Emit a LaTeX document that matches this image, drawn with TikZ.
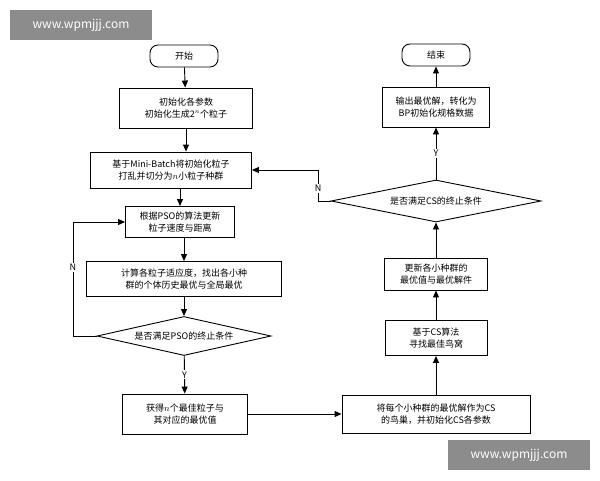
\documentclass[tikz,border=0pt]{standalone}
\usepackage{fontspec}
\setmainfont{Noto Sans CJK SC}
\usetikzlibrary{shapes.geometric,arrows.meta}
\begin{document}
\begin{tikzpicture}[x=1pt,y=-1pt,
  box/.style={draw,line width=0.9pt,align=center,inner sep=1pt,font=\fontsize{9}{12}\selectfont},
  term/.style={box,rounded corners=8pt},
  dia/.style={draw,line width=0.9pt,diamond,aspect=4.4,inner sep=0pt,font=\fontsize{9}{12}\selectfont},
  arr/.style={-{Triangle[length=7pt,width=6pt]},line width=0.9pt},
  lab/.style={font=\fontsize{9}{11}\selectfont},
  wm/.style={fill=black!45,text=white,minimum width=142pt,minimum height=30pt,inner sep=0pt,font=\fontsize{12}{14}\selectfont}]
\useasboundingbox (0,0) rectangle (600,480);
\fill[white] (0,0) rectangle (600,480);
\node[wm] (wm1) at (81,25) {www.wpmjjj.com};
\node[wm] (wm2) at (519,455) {www.wpmjjj.com};
\node[term,minimum width=68pt,minimum height=22pt] (start) at (184,56) {开始};
\node[box,minimum width=133pt,minimum height=40pt] (b1) at (186,108) {初始化各参数\\初始化生成2$^n$个粒子};
\node[box,minimum width=161pt,minimum height=36pt] (b2) at (171,170) {基于Mini-Batch将初始化粒子\\打乱并切分为$n$小粒子种群};
\node[box,minimum width=109pt,minimum height=31pt] (b3) at (180,222) {根据PSO的算法更新\\粒子速度与距离};
\node[box,minimum width=195pt,minimum height=35pt] (b4) at (184,279) {计算各粒子适应度，找出各小种\\群的个体历史最优与全局最优};
\node[dia,minimum width=174pt,minimum height=39pt] (d1) at (184,336) {是否满足PSO的终止条件};
\node[box,minimum width=125pt,minimum height=40pt] (b5) at (185,414) {获得$n$个最佳粒子与\\其对应的最优值};
\node[box,minimum width=188pt,minimum height=38pt] (b6) at (436,414) {将每个小种群的最优解作为CS\\的鸟巢，并初始化CS各参数};
\node[box,minimum width=102pt,minimum height=35pt] (b7) at (436,338) {基于CS算法\\寻找最佳鸟窝};
\node[box,minimum width=103pt,minimum height=32pt] (b8) at (436,274) {更新各小种群的\\最优值与最优解件};
\node[dia,minimum width=210pt,minimum height=42pt] (d2) at (436,201) {是否满足CS的终止条件};
\node[box,minimum width=107pt,minimum height=40pt] (b9) at (436,107) {输出最优解，转化为\\BP初始化规格数据};
\node[term,minimum width=68pt,minimum height=22pt] (end) at (436,55) {结束};
\coordinate (l1) at (73,336);
\coordinate (l2) at (73,222);
\coordinate (r1) at (318,201);
\coordinate (r2) at (318,170);
\draw[arr] (start) -- (b1);
\draw[arr] (b1) -- (b1|-b2.north);
\draw[arr] (b3|-b2.south) -- (b3);
\draw[arr] (b3.south-|b4) -- (b4);
\draw[arr] (b4) -- (d1);
\draw[arr] (d1) -- node[lab,fill=white,inner sep=1pt]{Y} (b5);
\draw[arr] (d1.west) -- (l1) -- node[lab,pos=0.6,fill=white,inner sep=1pt]{N} (l2) -- (b3.west);
\draw[arr] (b5) -- (b6);
\draw[arr] (b6) -- (b7);
\draw[arr] (b7) -- (b8);
\draw[arr] (b8) -- (d2);
\draw[arr] (d2) -- node[lab,fill=white,inner sep=1pt]{Y} (b9);
\draw[arr] (b9) -- (end);
\draw[arr] (d2.west) -- (r1) -- node[lab,pos=0.4,fill=white,inner sep=1pt]{N} (r2) -- (b2.east);
\end{tikzpicture}
\end{document}
